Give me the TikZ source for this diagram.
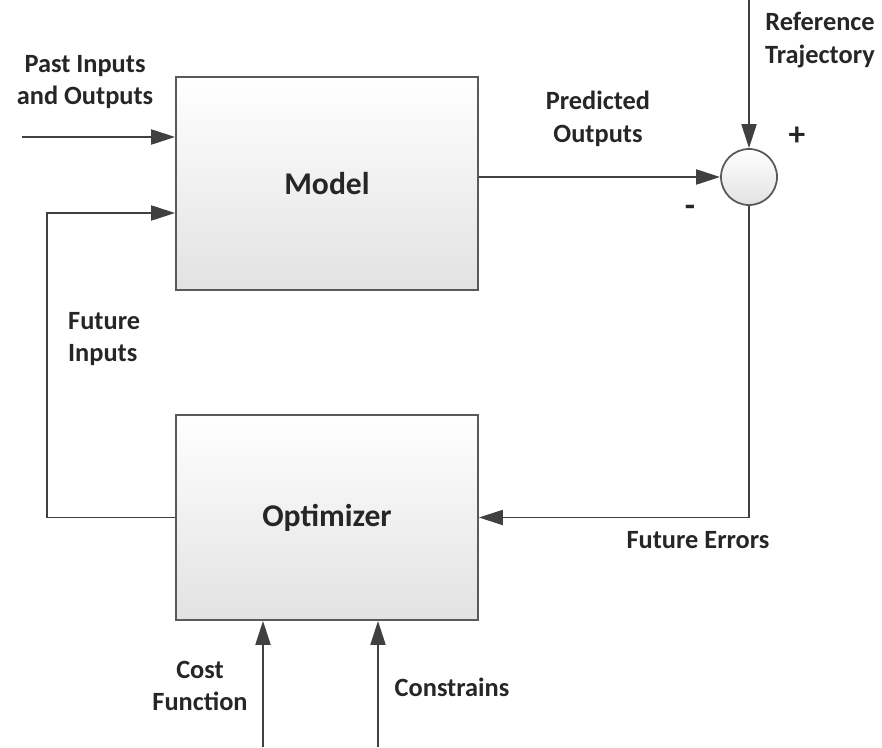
\documentclass[tikz,border=0pt]{standalone}
\usepackage{fontspec}
\setmainfont{Carlito}
\usetikzlibrary{positioning,arrows.meta,calc}
\definecolor{LineGray}{HTML}{404040}
\definecolor{BoxEdge}{HTML}{595959}
\definecolor{BoxShade}{HTML}{E2E2E2}
\definecolor{InkGray}{HTML}{262626}

\begin{document}
\begin{tikzpicture}[
  >={Triangle[length=4.8mm, width=3.0mm]},
  block/.style={
    draw=BoxEdge, line width=1pt, top color=white, bottom color=BoxShade,
    minimum width=6.04cm, font=\fontsize{18}{22}\selectfont\bfseries, text=InkGray
  },
  sumjunction/.style={
    circle, draw=BoxEdge, line width=1pt, top color=white, bottom color=BoxShade,
    minimum size=1.12cm, inner sep=0pt
  },
  lbl/.style={font=\fontsize{15}{18.5}\selectfont\bfseries, text=InkGray, align=center},
  sign/.style={font=\fontsize{19}{20}\selectfont\bfseries, text=InkGray},
  signal/.style={draw=LineGray, line width=1.1pt},
]

\useasboundingbox (0,0) rectangle (17.64,14.94);

% ---------- Blocks ----------
\node[block, minimum height=4.26cm] (model) at (6.54,11.27) {Model};
\node[block, minimum height=4.10cm] (optim) at (6.54,4.59) {Optimizer};
\node[sumjunction] (sum) at (14.98,11.40) {};

% ---------- Free ends of the signals ----------
\coordinate (pastin) at (0.44,12.20);
\coordinate (fbin)   at (0.94,10.68);
\coordinate (reftop) at (14.98,14.94);
\coordinate (costin) at (5.26,0);
\coordinate (consin) at (7.56,0);

% ---------- Signals ----------
\draw[signal,->] (pastin) -- (model.west |- pastin);
\draw[signal,->] (optim.west) -| (fbin) -- (model.west |- fbin);
\draw[signal,->] (model.east |- sum.west) -- (sum.west);
\draw[signal,->] (reftop) -- (sum.north);
\draw[signal,->] (sum.south) |- (optim.east);
\draw[signal,->] (costin) -- (optim.south -| costin);
\draw[signal,->] (consin) -- (optim.south -| consin);

% ---------- Labels ----------
\node[lbl] (l_past) at (1.70,13.30) {Past Inputs\\and Outputs};
\node[lbl] (l_pred) at (11.96,12.56) {Predicted\\Outputs};
\node[lbl] (l_ref)  at (16.40,14.14) {Reference\\Trajectory};
\node[sign] (l_plus) at (15.94,12.22) {+};
\node[sign] (l_minus) at (13.80,10.72) {-};
\node[lbl, align=left, anchor=west] (l_fin) at (1.24,8.16) {Future\\Inputs};
\node[lbl] (l_ferr) at (13.96,4.14) {Future Errors};
\node[lbl] (l_cost) at (4.00,1.22) {Cost\\Function};
\node[lbl] (l_cons) at (9.04,1.20) {Constrains};

\end{tikzpicture}
\end{document}
